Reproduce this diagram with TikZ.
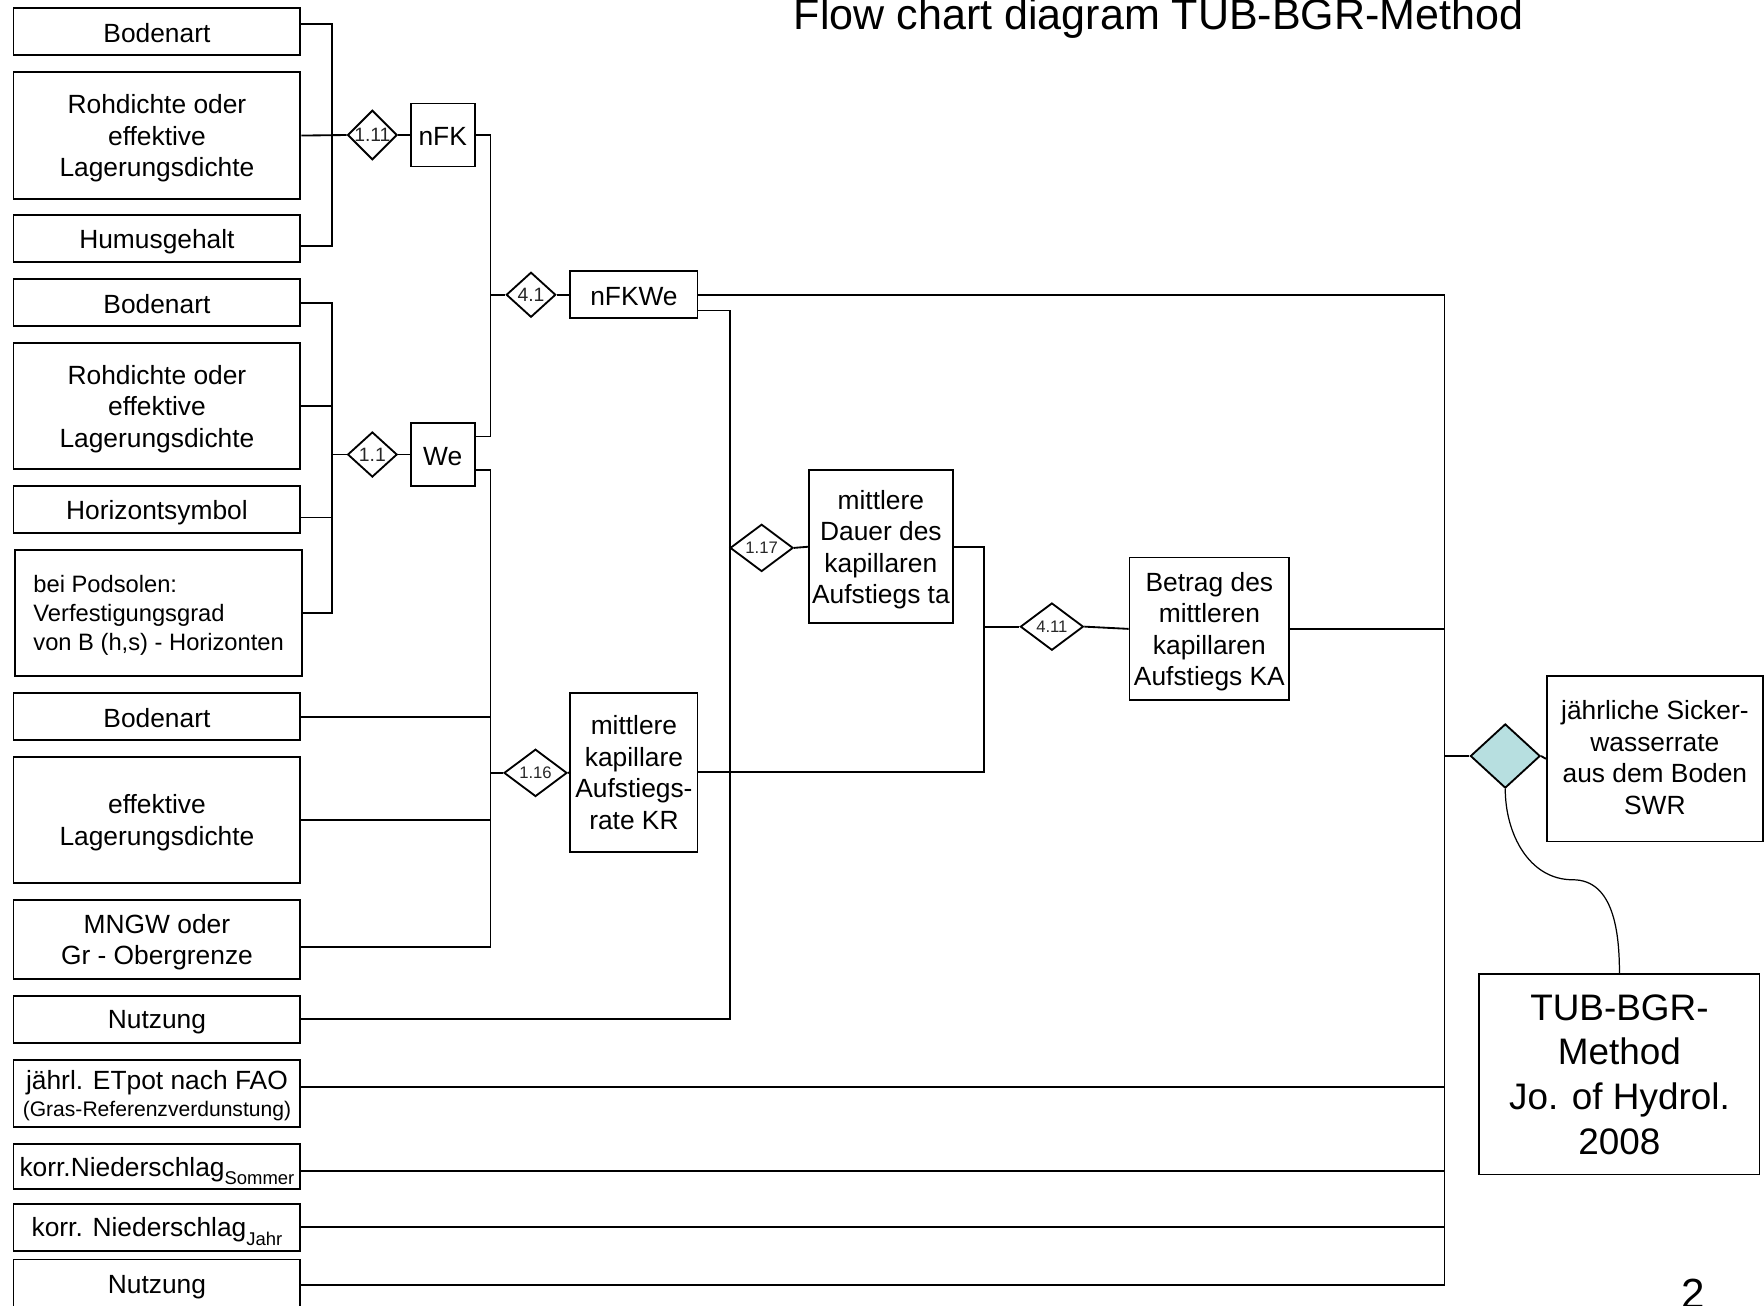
\documentclass[tikz,border=0pt]{standalone}
\usepackage{fontspec}
\setmainfont{Liberation Sans}
\usetikzlibrary{shapes.geometric}
\newcommand\pxu{0.0225cm}
\definecolor{diafill}{HTML}{B7DFE0}

\tikzset{
  box/.style={draw, line width=1.05pt, align=center, inner sep=1pt, text depth=-0.6pt, font=\fontsize{15}{17.9}\selectfont},
  flat/.style={text height=12.5pt},
  inbox/.style={box, minimum width=255*\pxu},
  rule/.style={diamond, draw, line width=1.05pt, inner sep=0pt, text=black!85, font=\fontsize{11}{12}\selectfont},
  smallrule/.style={rule, font=\fontsize{9.5}{11}\selectfont, minimum width=56*\pxu, minimum height=42*\pxu},
  wire/.style={line width=1.05pt},
}

\begin{document}
\begin{tikzpicture}[x=\pxu, y=-\pxu]
\useasboundingbox (0,0) rectangle (1568,1160);

% title and page number
\node[font=\fontsize{24.5}{30}\selectfont, anchor=base] (title) at (1030,26) {Flow chart diagram TUB-BGR-Method};
\node[font=\fontsize{24}{28}\selectfont, anchor=base] (pnum) at (1505,1163) {2};

% inputs for nFK
\node[inbox, flat, minimum height=42*\pxu] (bodenA) at (139.5,28) {Bodenart};
\node[inbox, minimum height=113*\pxu] (rohA) at (139.5,120.5) {Rohdichte oder\\effektive\\Lagerungsdichte};
\node[inbox, minimum height=42*\pxu] (humus) at (139.5,212) {Humusgehalt};

% inputs for We
\node[inbox, flat, minimum height=42*\pxu] (bodenB) at (139.5,269) {Bodenart};
\node[inbox, minimum height=112*\pxu] (rohB) at (139.5,361) {Rohdichte oder\\effektive\\Lagerungsdichte};
\node[inbox, minimum height=42*\pxu] (horiz) at (139.5,453) {Horizontsymbol};
\node[inbox, minimum height=112*\pxu, align=left, font=\fontsize{13.5}{16.6}\selectfont] (podsol) at (141,545) {bei Podsolen:\\Verfestigungsgrad\\von B (h,s) - Horizonten};

% inputs for KR and ta
\node[inbox, flat, minimum height=42*\pxu] (bodenC) at (139.5,637) {Bodenart};
\node[inbox, minimum height=112*\pxu] (efflag) at (139.5,729) {effektive\\Lagerungsdichte};
\node[inbox, minimum height=70*\pxu] (mngw) at (139.5,835) {MNGW oder\\Gr - Obergrenze};
\node[inbox, minimum height=42*\pxu] (nutzA) at (139.5,906) {Nutzung};

% climate and land use
\node[inbox, minimum height=60*\pxu, font=\fontsize{15}{15}\selectfont] (etpot) at (139.5,972) {jährl. ETpot nach FAO\\{\fontsize{12}{14}\selectfont(Gras-Referenzverdunstung)}};
\node[inbox, minimum height=40*\pxu] (nsommer) at (139.5,1037) {korr.Niederschlag\raisebox{-0.6ex}{\fontsize{10.5}{12}\selectfont Sommer}};
\node[inbox, minimum height=42*\pxu] (njahr) at (139.5,1091) {korr. Niederschlag\raisebox{-0.6ex}{\fontsize{10.5}{12}\selectfont Jahr}};
\node[inbox, minimum height=45*\pxu] (nutzB) at (139.5,1142) {Nutzung};

% rules and results
\node[rule, minimum width=44*\pxu, minimum height=42*\pxu] (r111) at (331,120) {1.11};
\node[box, flat, minimum width=57*\pxu, minimum height=56*\pxu] (nfk) at (393.5,120) {nFK};
\node[rule, minimum width=44*\pxu, minimum height=40*\pxu] (r11) at (331,404) {1.1};
\node[box, flat, minimum width=57*\pxu, minimum height=56*\pxu] (we) at (393.5,404) {We};
\node[rule, minimum width=44*\pxu, minimum height=40*\pxu] (r41) at (472,262) {4.1};
\node[box, flat, minimum width=113*\pxu, minimum height=42*\pxu] (nfkwe) at (563.5,262) {nFKWe};
\node[smallrule] (r116) at (476,687) {1.16};
\node[box, minimum width=113*\pxu, minimum height=141*\pxu] (kr) at (563.5,686.5) {mittlere\\kapillare\\Aufstiegs-\\rate KR};
\node[smallrule] (r117) at (677,487) {1.17};
\node[box, minimum width=128*\pxu, minimum height=136*\pxu] (ta) at (783,486) {mittlere\\Dauer des\\kapillaren\\Aufstiegs ta};
\node[smallrule] (r411) at (935,557) {4.11};
\node[box, minimum width=142*\pxu, minimum height=127*\pxu] (ka) at (1075,559) {Betrag des\\mittleren\\kapillaren\\Aufstiegs KA};
\node[rule, fill=diafill, minimum width=62*\pxu, minimum height=57*\pxu] (rswr) at (1338,672) {};
\node[box, text depth=1.5pt, minimum width=192*\pxu, minimum height=147*\pxu] (swr) at (1471,674.5) {jährliche Sicker-\\wasserrate\\aus dem Boden\\SWR};
\node[box, minimum width=249*\pxu, minimum height=178*\pxu, font=\fontsize{21}{25.5}\selectfont] (tub) at (1439.5,955) {TUB-BGR-\\Method\\Jo. of Hydrol.\\2008};

% bus points
\coordinate (busA) at (295,120);
\coordinate (busB) at (295,404);
\coordinate (busC) at (436,262);
\coordinate (busC2) at (436,687);
\coordinate (busD) at (649,487);
\coordinate (busE) at (875,557);
\coordinate (busF) at (1284,672);
\coordinate (bend) at (1398,782);

% nFK
\draw[wire] ([yshift=7*\pxu]bodenA.east) -| (busA) |- ([yshift=-7*\pxu]humus.east);
\draw[wire] (rohA.east) -- (r111.west);
\draw[wire] (r111.east) -- (nfk.west);

% We
\draw[wire] (bodenB.east) -| (busB) |- (podsol.east);
\draw[wire] (rohB.east) -| (busB);
\draw[wire] ([yshift=-7*\pxu]horiz.east) -| (busB);
\draw[wire] (busB) -- (r11.west);
\draw[wire] (r11.east) -- (we.west);

% nFKWe
\draw[wire] (nfk.east) -| (busC) |- ([yshift=16*\pxu]we.east);
\draw[wire] (busC) -- (r41.west);
\draw[wire] (r41.east) -- (nfkwe.west);

% KR
\draw[wire] ([yshift=-14*\pxu]we.east) -| (busC2) |- ([yshift=-7*\pxu]mngw.east);
\draw[wire] (bodenC.east) -| (busC2);
\draw[wire] (efflag.east) -| (busC2);
\draw[wire] (busC2) -- (r116.west);
\draw[wire] (r116.east) -- (kr.west);

% ta
\draw[wire] ([yshift=-14*\pxu]nfkwe.east) -| (busD) |- (nutzA.east);
\draw[wire] (busD) -- (r117.west);
\draw[wire] (r117.east) -- (ta.west);

% KA
\draw[wire] (ta.east) -| (busE) |- (kr.east);
\draw[wire] (busE) -- (r411.west);
\draw[wire] (r411.east) -- (ka.west);

% SWR
\draw[wire] (nfkwe.east) -| (busF);
\draw[wire] (ka.east) -| (busF);
\foreach \n/\dy in {etpot/6,nsommer/-4,njahr/0,nutzB/0}
  \draw[wire] ([yshift=\dy*\pxu]\n.east) -| (busF);
\draw[wire] (busF) -- (rswr.west);
\draw[wire] (rswr.east) -- (swr.west);
\draw[line width=0.7pt] (rswr.south) to[out=-90,in=180] (bend) to[out=0,in=90] (tub.north);

\end{tikzpicture}
\end{document}
